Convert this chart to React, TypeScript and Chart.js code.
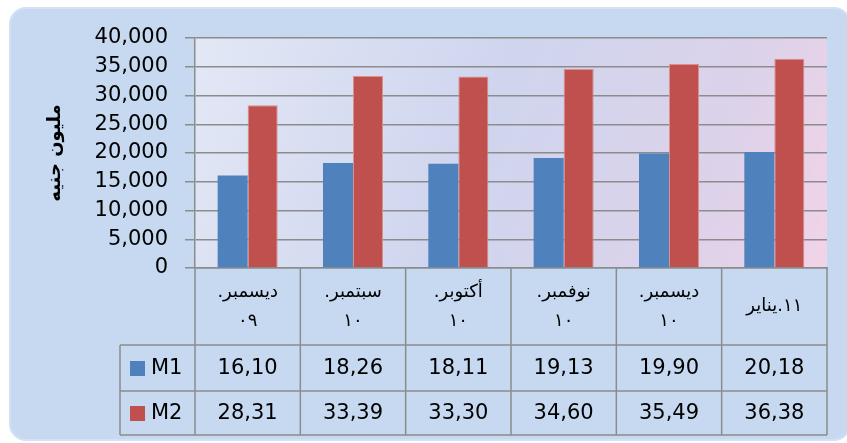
import React, { useEffect, useRef } from 'react';
import { Chart, registerables } from 'chart.js';

Chart.register(...registerables);

// ---- data ----
const categories: string[][] = [
  ['ديسمبر.\u200F', '٠٩'],
  ['سبتمبر.\u200F', '١٠'],
  ['أكتوبر.\u200F', '١٠'],
  ['نوفمبر.\u200F', '١٠'],
  ['ديسمبر.\u200F', '١٠'],
  ['يناير.١١'],
];
const seriesNames = ['M1', 'M2'];
const m1Values = [16100, 18260, 18110, 19130, 19900, 20180];
const m2Values = [28310, 33390, 33300, 34600, 35490, 36380];
const yMin = 0;
const yMax = 40000;
const yStep = 5000;
const yTitle = 'مليون جنيه';

const seriesColors = ['#4f81bd', '#c0504d'];
const FONT = "'DejaVu Sans', sans-serif";

const formatTable = (v: number) => (v / 1000).toFixed(2).replace('.', ',');

const backgroundPlugin = {
  id: 'bgPlugin',
  beforeDraw(chart: any) {
    const { ctx, width, height, chartArea } = chart;
    ctx.save();
    ctx.fillStyle = '#ffffff';
    ctx.fillRect(0, 0, width, height);
    // outer rounded panel
    ctx.beginPath();
    (ctx as any).roundRect(10, 8, 840, 432, 16);
    ctx.fillStyle = '#c6d9f1';
    ctx.fill();
    ctx.lineWidth = 2;
    ctx.strokeStyle = '#d3e1f4';
    ctx.stroke();
    // plot area gradient
    const { left, top, right, bottom } = chartArea;
    const g = ctx.createLinearGradient(left, top, right, bottom);
    g.addColorStop(0, '#e2e8f5');
    g.addColorStop(0.45, '#cfd5ee');
    g.addColorStop(0.8, '#dcd2ea');
    g.addColorStop(1, '#f2d3e7');
    ctx.fillStyle = g;
    ctx.fillRect(left, top, right - left, bottom - top);
    ctx.restore();
  },
};

// draw a single-line "month.year" label with the month on the left, as in the source
function drawSplitLabel(ctx: CanvasRenderingContext2D, text: string, cx: number, cy: number) {
  const idx = text.indexOf('.');
  const parts = idx >= 0 ? [text.slice(0, idx), '.', text.slice(idx + 1)] : [text];
  const widths = parts.map((p) => ctx.measureText(p).width);
  const total = widths.reduce((a, b) => a + b, 0);
  let x = cx - total / 2;
  ctx.textAlign = 'left';
  parts.forEach((p, k) => {
    ctx.fillText(p, x, cy);
    x += widths[k];
  });
  ctx.textAlign = 'center';
}

const tablePlugin = {
  id: 'dataTable',
  afterDraw(chart: any) {
    const { ctx, chartArea } = chart;
    const xs = chart.scales.x;
    const { left, right, bottom } = chartArea;
    const n = categories.length;
    const colW = (right - left) / n;
    const y0 = bottom;
    const y1 = y0 + 77;
    const y2 = y1 + 46;
    const y3 = y2 + 44;
    const legLeft = 120;

    ctx.save();
    ctx.strokeStyle = '#8c8c8c';
    ctx.lineWidth = 1.5;
    ctx.beginPath();
    [y1, y2, y3].forEach((y) => {
      ctx.moveTo(legLeft, y);
      ctx.lineTo(right, y);
    });
    for (let i = 0; i <= n; i++) {
      const x = left + i * colW;
      ctx.moveTo(x, y0);
      ctx.lineTo(x, y3);
    }
    ctx.moveTo(legLeft, y1);
    ctx.lineTo(legLeft, y3);
    ctx.stroke();

    // category labels
    ctx.fillStyle = '#000';
    ctx.textAlign = 'center';
    ctx.textBaseline = 'middle';
    ctx.font = `18px ${FONT}`;
    const catMid = (y0 + y1) / 2;
    categories.forEach((lines, i) => {
      const cx = xs.getPixelForValue(i);
      const lh = 29;
      if (lines.length === 1) {
        drawSplitLabel(ctx, lines[0], cx, catMid);
        return;
      }
      const start = catMid - ((lines.length - 1) * lh) / 2;
      lines.forEach((t, j) => ctx.fillText(t, cx, start + j * lh));
    });

    // values + legend
    const rows = [m1Values, m2Values];
    const rowMids = [(y1 + y2) / 2, (y2 + y3) / 2];
    ctx.font = `21px ${FONT}`;
    rows.forEach((vals, r) => {
      const cy = rowMids[r];
      vals.forEach((v, i) => {
        ctx.textAlign = 'center';
        ctx.fillText(formatTable(v), xs.getPixelForValue(i), cy + 1);
      });
      ctx.fillStyle = seriesColors[r];
      ctx.fillRect(130, cy - 7, 15, 15);
      ctx.fillStyle = '#000';
      ctx.textAlign = 'left';
      ctx.fillText(seriesNames[r], 151, cy + 1);
    });
    ctx.restore();
  },
};

export default function App() {
  const ref = useRef<HTMLCanvasElement | null>(null);
  useEffect(() => {
    if (!ref.current) return;
    const chart = new Chart(ref.current, {
      type: 'bar',
      data: {
        labels: categories.map((c) => c.join(' ')),
        datasets: [
          {
            label: seriesNames[0],
            data: m1Values,
            backgroundColor: seriesColors[0],
            borderWidth: 0,
          },
          {
            label: seriesNames[1],
            data: m2Values,
            backgroundColor: seriesColors[1],
            borderColor: '#d9908e',
            borderWidth: 1,
          },
        ],
      },
      options: {
        animation: false,
        responsive: false,
        maintainAspectRatio: false,
        layout: { padding: { left: 45, right: 20, top: 38, bottom: 0 } },
        datasets: { bar: { categoryPercentage: 0.57, barPercentage: 1 } },
        plugins: {
          legend: { display: false },
          tooltip: { enabled: false },
        },
        scales: {
          x: {
            grid: { display: false },
            border: { display: true, color: '#8c8c8c', width: 1.5 },
            ticks: { display: false },
            afterFit: (s: any) => {
              s.height = 175;
            },
          },
          y: {
            min: yMin,
            max: yMax,
            ticks: {
              stepSize: yStep,
              color: '#000',
              padding: 17,
              font: { family: FONT, size: 21 },
              callback: (v: any) => Number(v).toLocaleString('en-US'),
            },
            grid: { color: '#8c8c8c', lineWidth: 1.5, tickLength: 10, drawTicks: true },
            border: { display: true, color: '#8c8c8c', width: 1.5 },
            title: {
              display: true,
              text: yTitle,
              color: '#000',
              font: { family: FONT, size: 18, weight: 'bold' },
              padding: { top: 0, bottom: 0 },
            },
            afterFit: (s: any) => {
              s.width = 150;
            },
          },
        },
      },
      plugins: [backgroundPlugin, tablePlugin],
    } as any);
    return () => chart.destroy();
  }, []);
  return (
    <div style={{ position: 'fixed', left: 0, top: 0, width: 847, height: 443 }}>
      <canvas ref={ref} width={847} height={443} style={{ width: 847, height: 443, display: 'block' }} />
    </div>
  );
}
